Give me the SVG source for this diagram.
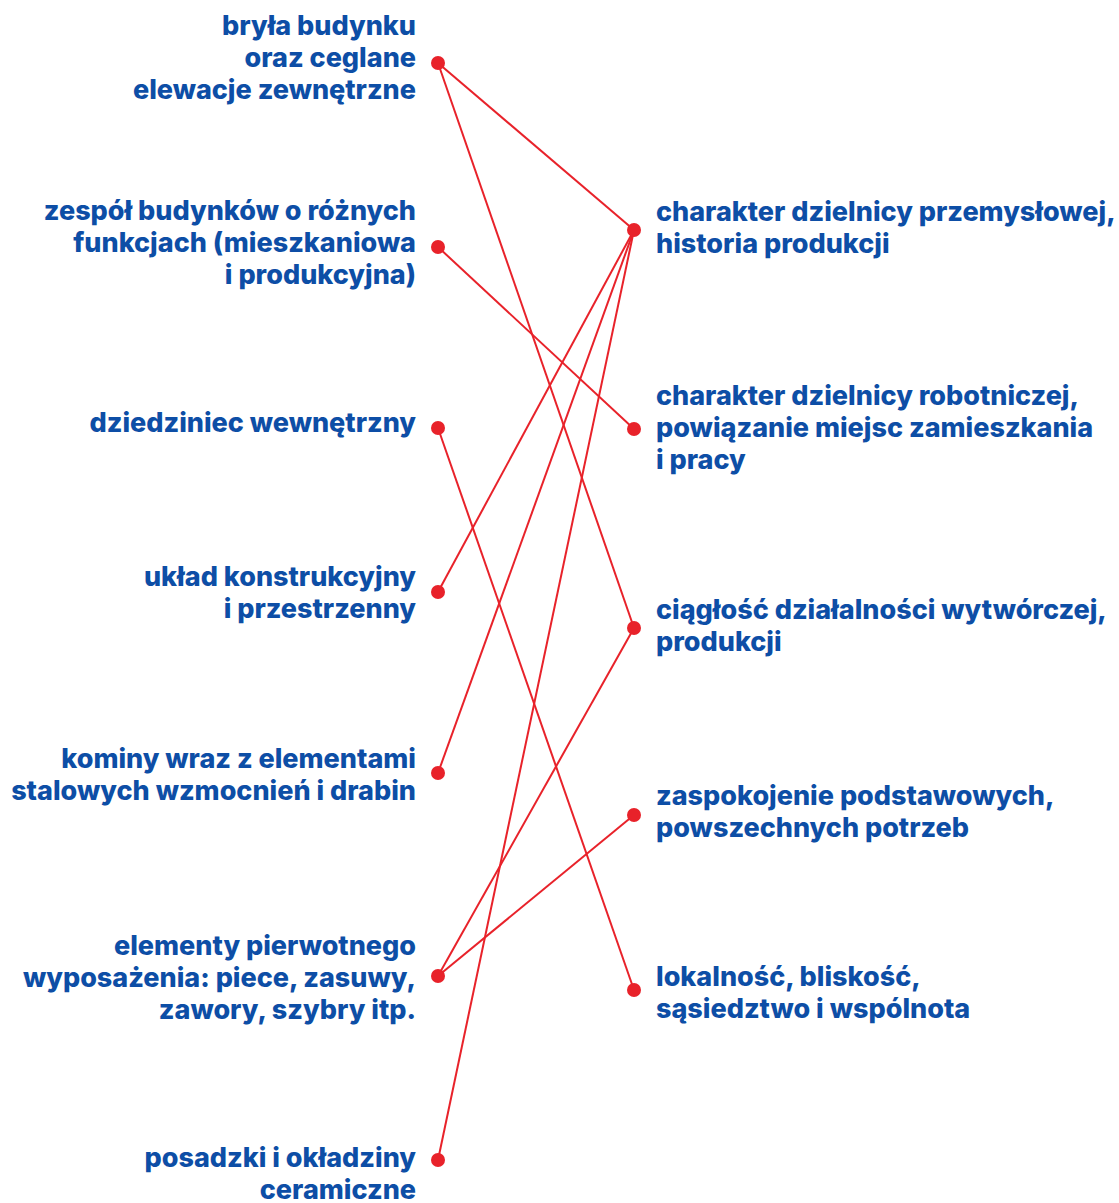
<svg xmlns="http://www.w3.org/2000/svg" width="1119" height="1203" viewBox="0 0 1119 1203">
<style>
.t{font-family:Inter,"Noto Sans",sans-serif;font-weight:800;font-size:27px;fill:#0d4ea6}
.l{text-anchor:end}
.c{stroke:#e8222a;stroke-width:2;fill:none}
.d{fill:#e8222a}
</style>
<rect width="1119" height="1203" fill="#fff"/>
<g id="connectors">
<line class="c" x1="438" y1="63" x2="634" y2="230"/>
<line class="c" x1="438" y1="63" x2="634" y2="628"/>
<line class="c" x1="438" y1="247" x2="634" y2="429"/>
<line class="c" x1="438" y1="428" x2="634" y2="990"/>
<line class="c" x1="438" y1="592" x2="634" y2="230"/>
<line class="c" x1="438" y1="773" x2="634" y2="230"/>
<line class="c" x1="438" y1="976" x2="634" y2="628"/>
<line class="c" x1="438" y1="976" x2="634" y2="815"/>
<line class="c" x1="438" y1="1160" x2="634" y2="230"/>
</g>
<g id="L1"><text class="t l" x="416" y="35">bryła budynku</text><text class="t l" x="416" y="67">oraz ceglane</text><text class="t l" x="416" y="99">elewacje zewnętrzne</text><circle class="d" cx="438" cy="63" r="7"/></g>
<g id="L2"><text class="t l" x="416" y="220">zespół budynków o różnych</text><text class="t l" x="416" y="252">funkcjach (mieszkaniowa</text><text class="t l" x="416" y="284">i produkcyjna)</text><circle class="d" cx="438" cy="247" r="7"/></g>
<g id="L3"><text class="t l" x="416" y="432">dziedziniec wewnętrzny</text><circle class="d" cx="438" cy="428" r="7"/></g>
<g id="L4"><text class="t l" x="416" y="586">układ konstrukcyjny</text><text class="t l" x="416" y="618">i przestrzenny</text><circle class="d" cx="438" cy="592" r="7"/></g>
<g id="L5"><text class="t l" x="416" y="768">kominy wraz z elementami</text><text class="t l" x="416" y="800">stalowych wzmocnień i drabin</text><circle class="d" cx="438" cy="773" r="7"/></g>
<g id="L6"><text class="t l" x="416" y="955">elementy pierwotnego</text><text class="t l" x="416" y="987">wyposażenia: piece, zasuwy,</text><text class="t l" x="416" y="1019">zawory, szybry itp.</text><circle class="d" cx="438" cy="976" r="7"/></g>
<g id="L7"><text class="t l" x="416" y="1167">posadzki i okładziny</text><text class="t l" x="416" y="1199">ceramiczne</text><circle class="d" cx="438" cy="1160" r="7"/></g>
<g id="R1"><circle class="d" cx="634" cy="230" r="7"/><text class="t" x="656" y="221">charakter dzielnicy przemysłowej,</text><text class="t" x="656" y="253">historia produkcji</text></g>
<g id="R2"><circle class="d" cx="634" cy="429" r="7"/><text class="t" x="656" y="405">charakter dzielnicy robotniczej,</text><text class="t" x="656" y="437">powiązanie miejsc zamieszkania</text><text class="t" x="656" y="469">i pracy</text></g>
<g id="R3"><circle class="d" cx="634" cy="628" r="7"/><text class="t" x="656" y="619">ciągłość działalności wytwórczej,</text><text class="t" x="656" y="651">produkcji</text></g>
<g id="R4"><circle class="d" cx="634" cy="815" r="7"/><text class="t" x="656" y="805">zaspokojenie podstawowych,</text><text class="t" x="656" y="837">powszechnych potrzeb</text></g>
<g id="R5"><circle class="d" cx="634" cy="990" r="7"/><text class="t" x="656" y="986">lokalność, bliskość,</text><text class="t" x="656" y="1018">sąsiedztwo i wspólnota</text></g>
</svg>
